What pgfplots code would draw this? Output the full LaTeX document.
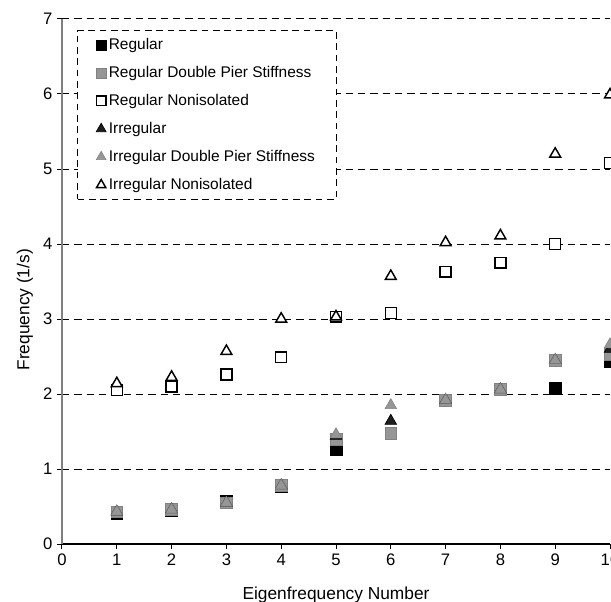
\documentclass[border=0pt]{standalone}
\usepackage{fontspec}
\setmainfont{Liberation Sans}
\usepackage{pgfplots}
\pgfplotsset{compat=1.18}
\definecolor{mgray}{RGB}{150,150,150}
\definecolor{mgrayd}{RGB}{130,130,130}
\definecolor{dblack}{RGB}{30,30,30}
\begin{document}
\begin{tikzpicture}
\begin{axis}[
  scale only axis, width=411pt, height=393.75pt,
  xmin=0, xmax=10, ymin=0, ymax=7,
  xtick={0,1,...,10}, ytick={0,1,...,7},
  axis x line*=bottom, axis y line*=left,
  x axis line style={black, line width=0.9pt},
  y axis line style={gray, line width=1.2pt},
  tick align=outside, major tick length=3.75pt,
  tick style={black, line width=0.75pt},
  ymajorgrids,
  major grid style={black, line width=0.75pt, dash pattern=on 5.5pt off 3.75pt},
  /pgf/number format/assume math mode=true,
  tick label style={font=\fontsize{12.5}{14}\selectfont},
  label style={font=\fontsize{13}{15}\selectfont},
  xlabel={Eigenfrequency Number},
  ylabel={Frequency (1/s)},
  xlabel style={at={(axis description cs:0.5,-0.097)}, anchor=center},
  ylabel style={at={(axis description cs:-0.0675,0.446)}, anchor=center},
  legend style={at={(axis description cs:0.0274,0.979)}, anchor=north west,
    draw=black, line width=0.75pt, dash pattern=on 5pt off 3.5pt, fill=white,
    font=\fontsize{11.6}{13}\selectfont, row sep=7.1pt,
    inner xsep=14pt, inner ysep=3.8pt},
  legend cell align=left,
  legend image code/.code={\draw[solid,#1,scale=0.85] plot coordinates {(0.17cm,0cm)};},
]
\addplot[only marks, mark=square*, mark size=4.4pt, mark options={solid, fill=black, draw=black, line width=0.5pt}]
  coordinates {(1,0.41) (2,0.45) (3,0.57) (4,0.77) (5,1.26) (6,1.48) (7,1.92) (8,2.06) (9,2.08) (10,2.43)};
\addlegendentry{Regular}
\addplot[only marks, mark=square*, mark size=4.4pt, mark options={solid, fill=mgray, draw=mgrayd, line width=0.4pt}]
  coordinates {(1,0.43) (2,0.46) (3,0.55) (4,0.78) (5,1.40) (6,1.48) (7,1.92) (8,2.06) (9,2.45) (10,2.53)};
\addlegendentry{Regular Double Pier Stiffness}
\addplot[only marks, mark=square*, mark size=4.1pt, mark options={solid, fill=white, draw=black, line width=1.1pt}]
  coordinates {(1,2.05) (2,2.10) (3,2.26) (4,2.49) (5,3.03) (6,3.08) (7,3.63) (8,3.75) (9,4.00) (10,5.08)};
\addlegendentry{Regular Nonisolated}
\addplot[only marks, mark=triangle*, mark size=5.0pt, mark options={solid, fill=dblack, draw=black, line width=0.5pt}]
  coordinates {(1,0.43) (2,0.46) (3,0.55) (4,0.78) (5,1.44) (6,1.64) (7,1.92) (8,2.06) (9,2.45) (10,2.60)};
\addlegendentry{Irregular}
\addplot[only marks, mark=triangle*, mark size=5.0pt, mark options={solid, fill=mgray, draw=mgrayd, line width=0.4pt}]
  coordinates {(1,0.43) (2,0.46) (3,0.55) (4,0.78) (5,1.46) (6,1.85) (7,1.92) (8,2.06) (9,2.45) (10,2.66)};
\addlegendentry{Irregular Double Pier Stiffness}
\addplot[only marks, mark=triangle*, mark size=4.7pt, mark options={solid, fill=white, draw=black, line width=1.1pt}]
  coordinates {(1,2.14) (2,2.225) (3,2.57) (4,3.00) (5,3.03) (6,3.57) (7,4.02) (8,4.11) (9,5.20) (10,5.99)};
\addlegendentry{Irregular Nonisolated}
\end{axis}
\pgfresetboundingbox
\path[use as bounding box] ([shift={(-46.5pt,-42.75pt)}]current axis.south west) rectangle ([shift={(0.75pt,14.25pt)}]current axis.north east);
\end{tikzpicture}
\end{document}
